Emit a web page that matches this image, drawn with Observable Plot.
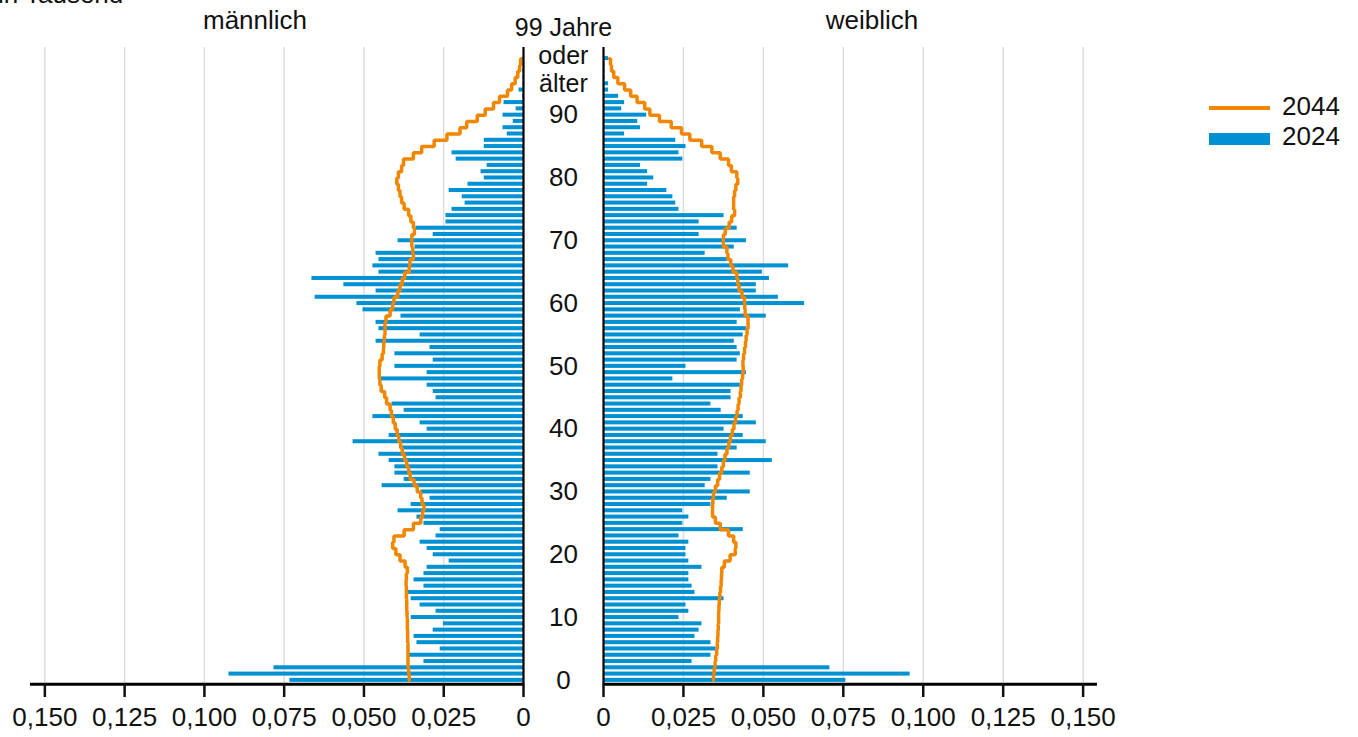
<!DOCTYPE html>
<html>
<head>
<meta charset="utf-8">
<script src="https://cdn.jsdelivr.net/npm/d3@7"></script>
<script src="https://cdn.jsdelivr.net/npm/@observablehq/plot@0.6"></script>
<style>
  html, body { margin: 0; padding: 0; background: #fff; }
  #wrap { position: relative; width: 1358px; height: 737px; overflow: hidden; font-family: "Liberation Sans", Arial, sans-serif; color: #111; }
  .lbl { position: absolute; font-size: 26px; line-height: 26px; white-space: nowrap; }
  .panel { position: absolute; top: 0; }
  .sw { position: absolute; }
</style>
</head>
<body>
<div id="wrap">
  <div id="left" class="panel" style="left:0px"></div>
  <div id="right" class="panel" style="left:563px"></div>
  <div class="lbl" style="left:-2px;top:-19px">in Tausend</div>
  <div class="lbl" style="left:155px;top:7px;width:200px;text-align:center">männlich</div>
  <div class="lbl" style="left:772px;top:7px;width:200px;text-align:center">weiblich</div>
  <div class="sw" style="left:1209px;top:106px;width:61px;height:4px;background:#f18700"></div>
  <div class="lbl" style="left:1282px;top:93px">2044</div>
  <div class="sw" style="left:1209px;top:133px;width:61px;height:12px;background:#0091d2"></div>
  <div class="lbl" style="left:1282px;top:123px">2024</div>
</div>
<script>
// Ages 0..99 ("99" = 99 Jahre oder älter)
const ages = d3.range(0, 100);

// Männlich, 2024 (bars)
const male2024 = [
  0.0732, 0.0923, 0.0782, 0.0312, 0.0360, 0.0261, 0.0334, 0.0343, 0.0283, 0.0251,
  0.0352, 0.0274, 0.0324, 0.0352, 0.0362, 0.0312, 0.0343, 0.0312, 0.0302, 0.0233,
  0.0283, 0.0302, 0.0324, 0.0274, 0.0261, 0.0312, 0.0334, 0.0393, 0.0352, 0.0293,
  0.0321, 0.0443, 0.0374, 0.0403, 0.0403, 0.0421, 0.0453, 0.0381, 0.0534, 0.0421,
  0.0302, 0.0324, 0.0472, 0.0374, 0.0412, 0.0274, 0.0283, 0.0302, 0.0446, 0.0302,
  0.0403, 0.0283, 0.0403, 0.0293, 0.0462, 0.0324, 0.0453, 0.0462, 0.0384, 0.0503,
  0.0522, 0.0653, 0.0462, 0.0563, 0.0663, 0.0453, 0.0472, 0.0453, 0.0462, 0.0340,
  0.0393, 0.0283, 0.0337, 0.0243, 0.0243, 0.0224, 0.0183, 0.0192, 0.0233, 0.0174,
  0.0123, 0.0133, 0.0114, 0.0211, 0.0224, 0.0123, 0.0123, 0.0051, 0.0064, 0.0032,
  0.0064, 0.0023, 0.0061, 0.0003, 0.0014, 0.0002, 0.0002, 0.0002, 0.0002, 0.0002
];

// Männlich, 2044 (line)
const male2044 = [
  0.0358, 0.0360, 0.0362, 0.0362, 0.0362, 0.0362, 0.0363, 0.0363, 0.0364, 0.0364,
  0.0365, 0.0366, 0.0366, 0.0367, 0.0367, 0.0368, 0.0367, 0.0364, 0.0371, 0.0387,
  0.0400, 0.0410, 0.0406, 0.0374, 0.0345, 0.0322, 0.0316, 0.0312, 0.0318, 0.0322,
  0.0333, 0.0343, 0.0355, 0.0360, 0.0366, 0.0373, 0.0380, 0.0385, 0.0391, 0.0396,
  0.0402, 0.0408, 0.0414, 0.0418, 0.0429, 0.0435, 0.0446, 0.0450, 0.0452, 0.0452,
  0.0450, 0.0443, 0.0439, 0.0438, 0.0436, 0.0434, 0.0434, 0.0431, 0.0418, 0.0410,
  0.0406, 0.0394, 0.0387, 0.0380, 0.0372, 0.0358, 0.0356, 0.0345, 0.0347, 0.0350,
  0.0350, 0.0342, 0.0345, 0.0353, 0.0360, 0.0374, 0.0382, 0.0387, 0.0392, 0.0397,
  0.0392, 0.0382, 0.0376, 0.0345, 0.0319, 0.0280, 0.0240, 0.0199, 0.0178, 0.0145,
  0.0120, 0.0094, 0.0075, 0.0050, 0.0037, 0.0026, 0.0018, 0.0012, 0.0009, 0.0008
];

// Weiblich, 2024 (bars)
const female2024 = [
  0.0758, 0.0959, 0.0708, 0.0277, 0.0336, 0.0352, 0.0336, 0.0286, 0.0299, 0.0308,
  0.0236, 0.0267, 0.0258, 0.0377, 0.0286, 0.0277, 0.0267, 0.0267, 0.0308, 0.0267,
  0.0258, 0.0258, 0.0267, 0.0236, 0.0437, 0.0248, 0.0267, 0.0248, 0.0336, 0.0387,
  0.0459, 0.0318, 0.0336, 0.0459, 0.0358, 0.0528, 0.0358, 0.0418, 0.0509, 0.0437,
  0.0377, 0.0478, 0.0437, 0.0368, 0.0336, 0.0399, 0.0399, 0.0428, 0.0217, 0.0447,
  0.0258, 0.0418, 0.0428, 0.0418, 0.0409, 0.0437, 0.0447, 0.0418, 0.0509, 0.0428,
  0.0629, 0.0547, 0.0478, 0.0478, 0.0519, 0.0497, 0.0579, 0.0387, 0.0318, 0.0409,
  0.0447, 0.0299, 0.0418, 0.0299, 0.0377, 0.0236, 0.0226, 0.0217, 0.0198, 0.0138,
  0.0157, 0.0138, 0.0116, 0.0248, 0.0236, 0.0258, 0.0226, 0.0066, 0.0116, 0.0107,
  0.0135, 0.0057, 0.0066, 0.0047, 0.0016, 0.0016, 0.0005, 0.0005, 0.0005, 0.0016
];

// Weiblich, 2044 (line)
const female2044 = [
  0.0344, 0.0346, 0.0349, 0.0351, 0.0354, 0.0356, 0.0357, 0.0358, 0.0359, 0.0360,
  0.0360, 0.0361, 0.0362, 0.0364, 0.0366, 0.0368, 0.0369, 0.0370, 0.0378, 0.0396,
  0.0412, 0.0414, 0.0407, 0.0391, 0.0365, 0.0350, 0.0341, 0.0341, 0.0342, 0.0344,
  0.0350, 0.0357, 0.0363, 0.0370, 0.0375, 0.0380, 0.0386, 0.0392, 0.0397, 0.0403,
  0.0408, 0.0413, 0.0418, 0.0421, 0.0424, 0.0428, 0.0430, 0.0432, 0.0435, 0.0437,
  0.0436, 0.0438, 0.0441, 0.0444, 0.0446, 0.0449, 0.0452, 0.0452, 0.0443, 0.0442,
  0.0441, 0.0433, 0.0424, 0.0420, 0.0417, 0.0405, 0.0398, 0.0389, 0.0386, 0.0375,
  0.0375, 0.0381, 0.0393, 0.0401, 0.0410, 0.0407, 0.0407, 0.0410, 0.0414, 0.0420,
  0.0417, 0.0400, 0.0391, 0.0365, 0.0339, 0.0307, 0.0270, 0.0244, 0.0212, 0.0175,
  0.0145, 0.0129, 0.0105, 0.0085, 0.0066, 0.0045, 0.0032, 0.0025, 0.0022, 0.0019
];

const xTicks = [0, 0.025, 0.05, 0.075, 0.1, 0.125, 0.15];
const ageTicks = [0, 10, 20, 30, 40, 50, 60, 70, 80, 90];
const ageTickLabels = ["0", "10", "20", "30", "40", "50", "60", "70", "80", "90"];
const topAge = [99];
const topAgeLabel = "99 Jahre\noder\nälter";

const BLUE = "#0091d2";
const ORANGE = "#f18700";
const GRID = "#dddddd";
const fmt = d => d === 0 ? "0" : d.toFixed(3).replace(".", ",");

function panel(isLeft) {
  const v24 = isLeft ? male2024 : female2024;
  const v44 = isLeft ? male2044 : female2044;
  const data = ages.map((a, i) => ({age: a, v2024: v24[i], v2044: v44[i]}));
  const marks = [
    Plot.ruleX(xTicks.filter(d => d > 0), {stroke: GRID, strokeWidth: 1.5, insetTop: -8}),
    Plot.barX(data, {x: "v2024", y: "age", fill: BLUE}),
    Plot.line(data, {x: "v2044", y: "age", stroke: ORANGE, strokeWidth: 3.5, curve: "step-before", strokeLinejoin: "miter"}),
    Plot.ruleX([0], {stroke: "#000", strokeWidth: 2.2, insetTop: -8}),
    Plot.ruleY([0], {x1: 0, x2: 0.1545, dy: 4, stroke: "#000", strokeWidth: 3}),
    Plot.axisX({ticks: xTicks, tickFormat: fmt, tickSize: 14, tickPadding: 10, strokeWidth: 2.5, fontSize: 26, anchor: "bottom", label: null, fill: "#111"})
  ];
  if (isLeft) {
    marks.push(Plot.text(ageTicks, {
      x: () => -0.0125, y: d => d,
      text: (d, i) => ageTickLabels[i],
      fontSize: 26, textAnchor: "middle", fill: "#111"
    }));
    marks.push(Plot.text(topAge, {
      x: () => -0.0125, y: d => d,
      text: () => topAgeLabel,
      fontSize: 25, lineHeight: 1.12, dy: -4, textAnchor: "middle", fill: "#111"
    }));
  }
  return Plot.plot({
    width: isLeft ? 563 : 795,
    height: 737,
    marginTop: 55,
    marginBottom: 54,
    marginLeft: isLeft ? 30 : 40,
    marginRight: isLeft ? 40 : 261,
    style: {overflow: "visible", background: "transparent", fontFamily: "'Liberation Sans', Arial, sans-serif", fontSize: "26px"},
    x: {domain: [0, 0.1545], reverse: isLeft, axis: null},
    y: {domain: ages.slice().reverse(), axis: null, paddingInner: 0.36, paddingOuter: 0.18, round: false},
    marks
  });
}

document.getElementById("left").appendChild(panel(true));
document.getElementById("right").appendChild(panel(false));
</script>
</body>
</html>
